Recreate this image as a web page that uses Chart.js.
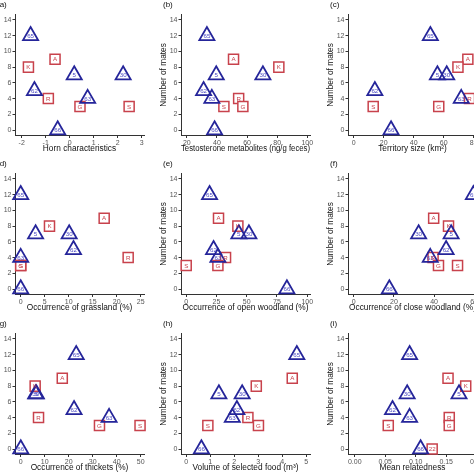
<!DOCTYPE html>
<html>
<head>
<meta charset="utf-8">
<script src="https://cdn.jsdelivr.net/npm/chart.js@4.4.1/dist/chart.umd.min.js"></script>
<style>
  html, body { margin: 0; padding: 0; background: #fff; overflow: hidden; }
  #wrap { position: relative; width: 474px; height: 474px; overflow: hidden; background: #fff; }
  #wrap canvas { position: absolute; }
</style>
</head>
<body>
<div id="wrap"></div>
<script>
// individuals: triangles (blue) and squares (red), y = number of mates
const triLabels = ['65', '5', '30', '62', '63', '66'];
const triMates = [12, 7, 7, 5, 4, 0];
const sqLabels = ['A', 'K', 'R', 'G', 'S'];
const sqMates = [9, 8, 4, 3, 3];
const sqLabelsI = ['A', 'K', 'R', 'G', 'S', '22'];
const sqMatesI = [9, 8, 4, 3, 3, 0];

// x values per panel, same order as the labels above
const hornTri = [-1.63, 0.19, 2.23, -1.47, 0.75, -0.5];
const hornSq = [-0.61, -1.72, -0.89, 0.43, 2.48];
const testoTri = [33.3, 39.5, 70.5, 31.1, 36.6, 38.4];
const testoSq = [51, 81.1, 54.4, 57.2, 44.6];
const terrTri = [51.1, 55.8, 62, 14.1, 71.7, 24.9];
const terrSq = [76.1, 69.5, 77.2, 56.7, 13];
const grassTri = [0, 3.1, 10.1, 11, 0, 0];
const grassSq = [17.4, 6, 22.4, 0, 0];
const openTri = [19.3, 43.5, 51.8, 22.6, 26.2, 83.2];
const openSq = [26.7, 42.7, 32.5, 26.2, 0];
const closeTri = [59.6, 48.5, 32.3, 46, 38.1, 17.7];
const closeSq = [39.8, 47.2, 39.5, 42.2, 51.7];
const thickTri = [23.1, 6.5, 6.2, 22.2, 36.8, 0];
const thickSq = [17.3, 6, 7.4, 32.8, 49.7];
const foodTri = [4.61, 1.36, 2.33, 2.11, 1.92, 0.63];
const foodSq = [4.42, 2.92, 2.57, 3.01, 0.9];
const relTri = [0.090, 0.171, 0.086, 0.062, 0.090, 0.108];
const relSq = [0.153, 0.182, 0.155, 0.155, 0.055, 0.127];

const panelTags = ['(a)', '(b)', '(c)', '(d)', '(e)', '(f)', '(g)', '(h)', '(i)'];
const xTitles = [
    'Horn characteristics',
    'Testosterone metabolites (ng/g feces)',
    'Territory size (km\u00B2)',
    'Occurrence of grassland (%)',
    'Occurrence of open woodland (%)',
    'Occurrence of close woodland (%)',
    'Occurrence of thickets (%)',
    'Volume of selected food (m\u00B3)',
    'Mean relatedness'
];
const yTitle = 'Number of mates';

const panels = [
    { tri: hornTri, sq: hornSq, min: -2.28, max: 3.1, step: 1 },
    { tri: testoTri, sq: testoSq, min: 16.1, max: 101.8, step: 20 },
    { tri: terrTri, sq: terrSq, min: -3.8, max: 82.2, step: 20 },
    { tri: grassTri, sq: grassSq, min: -1.19, max: 25.7, step: 5 },
    { tri: openTri, sq: openSq, min: -4.3, max: 102.3, step: 25 },
    { tri: closeTri, sq: closeSq, min: -2.9, max: 61.4, step: 20 },
    { tri: thickTri, sq: thickSq, min: -2.4, max: 51.35, step: 10 },
    { tri: foodTri, sq: foodSq, min: -0.22, max: 5.16, step: 1 },
    { tri: relTri, sq: relSq, sqLabels: sqLabelsI, sqMates: sqMatesI, min: -0.011, max: 0.2005, step: 0.05, fixed: 2 }
];

const FONT = '"Liberation Sans", Arial, sans-serif';
const TRI_COLOR = '#25259a';
const TRI_TEXT = '#4a4ac4';
const SQ_COLOR = '#c8424c';

const labelPlugin = {
    id: 'pointText',
    afterDatasetsDraw(chart) {
        const ctx = chart.ctx;
        ctx.save();
        ctx.font = '6.2px ' + FONT;
        ctx.textAlign = 'center';
        ctx.textBaseline = 'middle';
        chart.data.datasets.forEach((ds, i) => {
            const meta = chart.getDatasetMeta(i);
            ctx.fillStyle = ds.textColor;
            meta.data.forEach((pt, j) => {
                ctx.fillText(ds.pointText[j], pt.x, pt.y + 0.5);
            });
        });
        ctx.restore();
    },
    afterDraw(chart) {
        const ctx = chart.ctx;
        ctx.save();
        ctx.font = '8px ' + FONT;
        ctx.fillStyle = '#111';
        ctx.textAlign = 'left';
        ctx.textBaseline = 'middle';
        ctx.fillText(chart.options.plugins.tag, 8, 10);
        ctx.restore();
    }
};

const wrap = document.getElementById('wrap');
const colLeft = [-11, 155, 322];
const rowTop = [-5, 154, 314];

panels.forEach((p, k) => {
    const canvas = document.createElement('canvas');
    canvas.width = 167;
    canvas.height = 160;
    canvas.style.left = colLeft[k % 3] + 'px';
    canvas.style.top = rowTop[Math.floor(k / 3)] + 'px';
    wrap.appendChild(canvas);

    const sqL = p.sqLabels || sqLabels;
    const sqY = p.sqMates || sqMates;

    new Chart(canvas.getContext('2d'), {
        type: 'scatter',
        data: {
            datasets: [
                {
                    data: p.tri.map((x, i) => ({ x: x, y: triMates[i] })),
                    pointText: triLabels,
                    textColor: TRI_TEXT,
                    pointStyle: 'triangle',
                    pointRadius: 8.7,
                    borderWidth: 1.8,
                    borderColor: TRI_COLOR,
                    backgroundColor: 'rgba(0,0,0,0)',
                    clip: false
                },
                {
                    data: p.sq.map((x, i) => ({ x: x, y: sqY[i] })),
                    pointText: sqL,
                    textColor: SQ_COLOR,
                    pointStyle: 'rect',
                    pointRadius: 7.1,
                    borderWidth: 1.5,
                    borderColor: SQ_COLOR,
                    backgroundColor: '#fff',
                    clip: false
                }
            ]
        },
        options: {
            responsive: false,
            animation: false,
            layout: { padding: { left: 0, right: 12, top: 19.5, bottom: 0 } },
            plugins: {
                legend: { display: false },
                tooltip: { enabled: false },
                tag: panelTags[k]
            },
            scales: {
                x: {
                    type: 'linear',
                    min: p.min,
                    max: p.max,
                    afterFit: (scale) => { scale.height = 19.5; },
                    grid: { drawOnChartArea: false, drawTicks: true, tickLength: 2.5, color: '#333' },
                    border: { display: true, color: '#333', width: 1 },
                    ticks: {
                        stepSize: p.step,
                        includeBounds: false,
                        autoSkip: false,
                        maxRotation: 0,
                        padding: 0.5,
                        color: '#555',
                        font: { family: FONT, size: 7 },
                        callback: (v) => p.fixed ? v.toFixed(p.fixed) : v
                    },
                    title: {
                        display: true,
                        text: xTitles[k],
                        color: '#111',
                        font: { family: FONT, size: 8.3 },
                        padding: { top: 0, bottom: 1 }
                    }
                },
                y: {
                    type: 'linear',
                    min: -0.7,
                    max: 14.7,
                    afterFit: (scale) => { scale.width = 26; },
                    grid: { drawOnChartArea: false, drawTicks: true, tickLength: 2.5, color: '#333' },
                    border: { display: true, color: '#333', width: 1 },
                    ticks: {
                        stepSize: 2,
                        includeBounds: false,
                        autoSkip: false,
                        padding: 1,
                        color: '#555',
                        font: { family: FONT, size: 7 }
                    },
                    title: {
                        display: true,
                        text: yTitle,
                        color: '#111',
                        font: { family: FONT, size: 8.3 },
                        padding: { top: 3.5, bottom: 0 }
                    }
                }
            }
        },
        plugins: [labelPlugin]
    });
});
</script>
</body>
</html>
